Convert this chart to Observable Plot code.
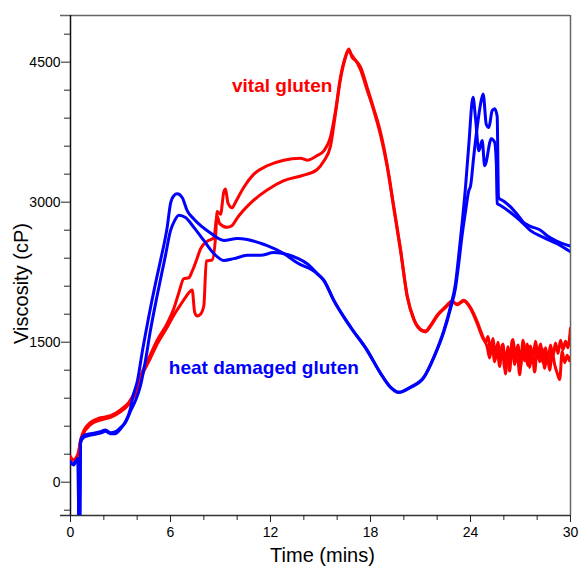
<!DOCTYPE html>
<html>
<head>
<meta charset="utf-8">
<script src="https://cdn.jsdelivr.net/npm/d3@7"></script>
<script src="https://cdn.jsdelivr.net/npm/@observablehq/plot@0.6"></script>
<style>
  body { margin: 0; background: #fff; }
  svg { font-family: "Liberation Sans", Arial, sans-serif; }
</style>
</head>
<body>
<div id="chart"></div>
<script>
// ---- data: [time (mins), viscosity (cP)] ----
const vitalA = [[0,275],[0.18,232],[0.36,262],[0.5,330],[0.58,420],[0.72,500],[1.2,615],[1.8,665],[2.4,695],[3.0,755],[3.5,835],[3.9,950],[4.3,1150],[4.8,1330],[5.2,1480],[5.8,1660],[6.2,1790],[6.6,1900],[6.9,1980],[7.2,2050],[7.3,2060],[7.45,1820],[7.6,1780],[7.8,1800],[8.0,1890],[8.15,2370],[8.5,2380],[8.7,2620],[8.8,2900],[9.0,2870],[9.2,3110],[9.3,3140],[9.45,2990],[9.7,2940],[9.9,3000],[10.4,3160],[11.0,3300],[11.8,3390],[12.8,3450],[13.8,3470],[14.2,3450],[14.8,3500],[15.2,3550],[15.6,3700],[15.9,3980],[16.2,4340],[16.5,4560],[16.7,4640],[16.9,4550],[17.1,4520],[17.4,4450],[17.8,4230],[18.2,4000],[18.6,3750],[19.0,3400],[19.4,2950],[19.8,2500],[20.2,2000],[20.6,1750],[21.0,1640],[21.3,1620],[21.6,1680],[22.0,1790],[22.5,1880],[22.9,1940],[23.2,1900],[23.6,1940],[24.0,1860],[24.4,1700],[24.7,1560],[25.0,1450],[25.15,1330],[25.3,1480],[25.45,1290],[25.6,1430],[25.75,1240],[25.9,1470],[26.05,1220],[26.2,1410],[26.35,1190],[26.5,1520],[26.65,1260],[26.8,1400],[26.95,1150],[27.1,1420],[27.25,1300],[27.4,1480],[27.55,1230],[27.7,1390],[27.85,1180],[28.0,1440],[28.15,1290],[28.3,1430],[28.45,1220],[28.6,1370],[28.75,1200],[28.9,1390],[29.05,1260],[29.2,1170],[29.35,1100],[29.5,1400],[29.65,1280],[29.8,1360],[29.95,1300],[30,1340]];

const vitalB = [[0,262],[0.18,240],[0.36,268],[0.5,340],[0.58,430],[0.72,520],[1.2,640],[1.8,690],[2.4,712],[3.0,775],[3.5,855],[3.9,985],[4.3,1180],[4.8,1370],[5.2,1520],[5.8,1700],[6.2,1860],[6.5,2030],[6.8,2180],[7.1,2190],[7.3,2260],[7.6,2400],[7.8,2500],[8.2,2580],[8.6,2620],[8.8,2850],[8.95,2770],[9.4,2730],[9.7,2750],[10.0,2830],[10.8,2990],[11.8,3130],[12.8,3230],[14.0,3290],[14.8,3350],[15.2,3440],[15.6,3600],[15.9,3950],[16.2,4320],[16.5,4550],[16.65,4620],[16.9,4570],[17.4,4420],[17.8,4200],[18.2,3980],[18.6,3720],[19.0,3380],[19.4,2930],[19.8,2480],[20.2,1990],[20.6,1740],[21.0,1630],[21.3,1610],[21.6,1670],[22.0,1780],[22.5,1870],[22.9,1930],[23.2,1910],[23.6,1950],[24.0,1870],[24.4,1720],[24.7,1580],[24.9,1500],[25.05,1560],[25.2,1410],[25.35,1540],[25.5,1360],[25.65,1500],[25.8,1330],[25.95,1480],[26.1,1160],[26.25,1450],[26.4,1300],[26.55,1530],[26.7,1350],[26.85,1470],[27.0,1230],[27.15,1520],[27.3,1380],[27.45,1250],[27.6,1460],[27.75,1330],[27.9,1510],[28.05,1360],[28.2,1480],[28.35,1280],[28.5,1440],[28.65,1310],[28.8,1470],[28.95,1350],[29.1,1490],[29.25,1380],[29.4,1520],[29.55,1420],[29.7,1510],[29.85,1440],[29.95,1560],[30,1650]];

const heatA = [[0,210],[0.18,185],[0.36,230],[0.45,250],[0.5,-420],[0.56,-420],[0.6,420],[0.8,480],[1.2,505],[1.8,525],[2.1,545],[2.4,520],[2.7,520],[3.0,570],[3.3,650],[3.6,790],[3.72,900],[4.02,1090],[4.32,1410],[4.68,1760],[5.1,2130],[5.4,2375],[5.8,2730],[6.0,2985],[6.2,3070],[6.4,3090],[6.7,3050],[7.0,2910],[7.4,2820],[8.4,2670],[9.2,2590],[10.0,2610],[10.6,2600],[11.4,2560],[11.8,2535],[12.8,2450],[13.6,2350],[14.8,2235],[15.2,2160],[15.8,1945],[16.8,1660],[17.8,1410],[18.6,1165],[19.2,1015],[19.7,960],[20.4,1015],[21.2,1120],[21.8,1340],[22.4,1625],[22.8,1880],[23.1,2130],[23.3,2440],[23.5,2780],[23.7,3160],[23.9,3620],[24.15,4125],[24.3,3900],[24.5,3550],[24.7,3660],[24.85,3390],[25.25,3680],[25.45,3640],[25.55,3410],[25.6,2985],[25.8,2965],[26.4,2890],[27.0,2800],[27.6,2695],[28.4,2620],[29.2,2555],[29.9,2480],[30,2470]];

const heatB = [[0,220],[0.18,195],[0.36,235],[0.45,255],[0.5,-420],[0.56,-420],[0.6,440],[0.8,500],[1.2,520],[1.8,540],[2.1,560],[2.4,530],[2.7,540],[3.0,585],[3.3,640],[3.6,760],[3.9,875],[4.2,1035],[4.5,1305],[4.8,1630],[5.2,2000],[5.7,2430],[6.0,2695],[6.24,2800],[6.5,2860],[6.9,2835],[7.4,2730],[8.0,2590],[8.6,2450],[9.2,2375],[9.8,2395],[10.6,2430],[11.4,2430],[12.2,2460],[13.0,2440],[13.6,2400],[14.2,2340],[14.8,2235],[15.2,2165],[15.8,1950],[16.8,1665],[17.8,1415],[18.6,1170],[19.2,1020],[19.7,965],[20.4,1020],[21.2,1125],[21.8,1335],[22.4,1610],[22.8,1860],[23.1,2080],[23.3,2350],[23.5,2650],[23.7,2900],[23.9,3125],[24.0,3170],[24.2,3500],[24.4,3800],[24.6,4050],[24.76,4160],[24.95,3830],[25.1,3800],[25.3,3980],[25.45,4000],[25.6,3920],[25.68,3050],[26.0,3010],[26.4,2950],[26.8,2870],[27.2,2780],[27.6,2740],[28.2,2700],[28.6,2640],[29.2,2580],[29.8,2540],[30,2530]];

const seriesNames = ["vital gluten", "vital gluten", "heat damaged gluten", "heat damaged gluten"];
const seriesData = [vitalA, vitalB, heatA, heatB];
const seriesColors = ["#ff0000", "#ff0000", "#0000ff", "#0000ff"];

const xMajor = [0, 6, 12, 18, 24, 30];
const xMinor = [2, 4, 8, 10, 14, 16, 20, 22, 26, 28];
const yMajor = [0, 1500, 3000, 4500];
const yMinor = [-300, 300, 600, 900, 1200, 1800, 2100, 2400, 2700, 3300, 3600, 3900, 4200, 4800];
const xDomain = [0, 30];
const yDomain = [-357, 5000];

// ---- build table ----
const rows = [];
seriesData.forEach((arr, i) => arr.forEach(([t, v]) => rows.push({t, v, id: i, name: seriesNames[i], color: seriesColors[i]})));

const font = "Liberation Sans, Arial, sans-serif";

const chart = Plot.plot({
  width: 580,
  height: 568,
  marginLeft: 70,
  marginRight: 10,
  marginTop: 15,
  marginBottom: 53,
  style: {fontFamily: font, background: "#fff", color: "#000"},
  x: {domain: xDomain},
  y: {domain: yDomain},
  marks: [
    // frame
    Plot.ruleY([yDomain[1]], {x1: -0.6, x2: xDomain[1], stroke: "#666", strokeWidth: 1.5, clip: false}),
    Plot.ruleX([xDomain[1]], {stroke: "#666", strokeWidth: 1.5}),
    Plot.ruleY([yDomain[0]], {x1: -0.6, x2: xDomain[1], stroke: "#333", strokeWidth: 1.5, clip: false}),
    Plot.ruleX([xDomain[0]], {stroke: "#111", strokeWidth: 1.5}),
    // axes
    Plot.axisY(yMajor, {tickSize: 9, tickPadding: 1, fontSize: 14, tickFormat: d => String(d), label: null, stroke: "#222"}),
    Plot.axisY(yMinor, {tickSize: 6, tickFormat: () => "", label: null, stroke: "#222"}),
    Plot.axisX(xMajor, {tickSize: 7, tickPadding: 5, fontSize: 14, tickFormat: d => String(d), label: null, stroke: "#222"}),
    Plot.axisX(xMinor, {tickSize: 5, tickFormat: () => "", label: null, stroke: "#222"}),
    // data
    Plot.line(rows, {x: "t", y: "v", z: "id", stroke: "color", strokeWidth: 3, clip: true, curve: "monotone-x", strokeLinejoin: "round"}),
    // annotations
    Plot.text(["vital gluten"], {x: 12.7, y: 4250, text: d => d, fill: "#ff0000", fontSize: 19, fontWeight: "bold"}),
    Plot.text(["heat damaged gluten"], {x: 11.6, y: 1220, text: d => d, fill: "#0000ff", fontSize: 19, fontWeight: "bold"}),
    // axis titles
    Plot.text(["Time (mins)"], {frameAnchor: "bottom", dy: 40, dx: 2, text: d => d, fontSize: 20, lineAnchor: "middle", fill: "#000"}),
    Plot.text(["Viscosity (cP)"], {frameAnchor: "left", dx: -49, dy: 18, rotate: -90, text: d => d, fontSize: 20, lineAnchor: "middle", textAnchor: "middle", fill: "#000"})
  ]
});
document.getElementById("chart").appendChild(chart);
</script>
</body>
</html>
